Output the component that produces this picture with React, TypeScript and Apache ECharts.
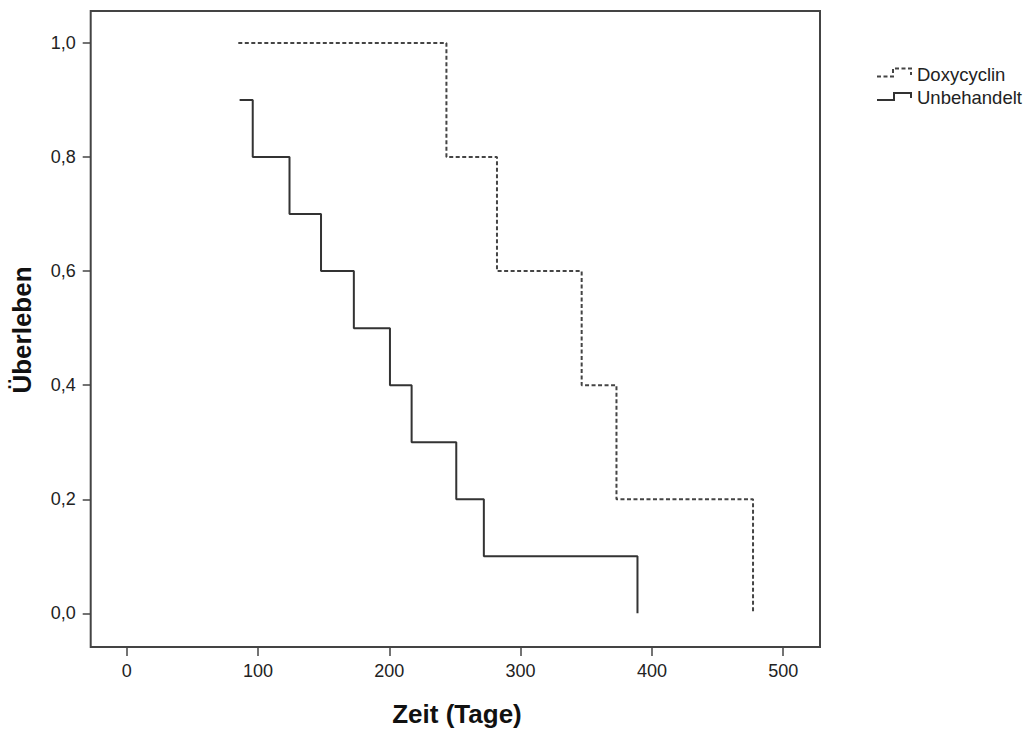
import React, { useEffect, useRef } from "react";
import * as echarts from "echarts";

const seriesNames = ["Doxycyclin", "Unbehandelt"];
const doxTimes = [85, 243.5, 282, 346.5, 373, 477];
const doxSurvival = [1.0, 0.8, 0.6, 0.4, 0.2, 0.0];
const untreatedTimes = [86, 96, 124, 148, 173, 200.5, 217, 251, 272, 389];
const untreatedSurvival = [0.9, 0.8, 0.7, 0.6, 0.5, 0.4, 0.3, 0.2, 0.1, 0.0];
const xTicks = [0, 100, 200, 300, 400, 500];
const yTicks = [0, 0.2, 0.4, 0.6, 0.8, 1.0];
const xTitle = "Zeit (Tage)";
const yTitle = "Überleben";

const FONT = "'Liberation Sans', Arial, sans-serif";
const FRAME = "#444";

export default function App() {
  const ref = useRef<HTMLDivElement>(null);

  useEffect(() => {
    if (!ref.current) return;
    const chart = echarts.init(ref.current, undefined, { renderer: "svg" });
    const zip = (t: number[], s: number[]) => t.map((v, i) => [v, s[i]]);

    chart.setOption({
      animation: false,
      backgroundColor: "#fff",
      textStyle: { fontFamily: FONT },
      grid: {
        left: 90.7,
        top: 11,
        width: 729.3,
        height: 636,
        show: true,
        borderColor: FRAME,
        borderWidth: 2,
        backgroundColor: "#fff",
      },
      xAxis: {
        type: "value",
        min: -27.4,
        max: 528,
        axisLine: { show: false, onZero: false },
        axisTick: {
          show: true,
          length: 9,
          customValues: xTicks,
          lineStyle: { color: FRAME, width: 1.5 },
        },
        axisLabel: {
          customValues: xTicks,
          margin: 15,
          fontSize: 18,
          color: "#222",
          fontFamily: FONT,
        },
        splitLine: { show: false },
      },
      yAxis: {
        type: "value",
        min: -0.059,
        max: 1.056,
        axisLine: { show: false, onZero: false },
        axisTick: {
          show: true,
          length: 8,
          customValues: yTicks,
          lineStyle: { color: FRAME, width: 1.5 },
        },
        axisLabel: {
          customValues: yTicks,
          margin: 15,
          fontSize: 18,
          color: "#222",
          fontFamily: FONT,
          formatter: (v: number) => v.toFixed(1).replace(".", ","),
        },
        splitLine: { show: false },
      },
      series: [
        {
          name: seriesNames[0],
          type: "line",
          step: "end",
          symbol: "none",
          data: zip(doxTimes, doxSurvival),
          lineStyle: { color: "#444", width: 2, type: [4, 2.5] },
        },
        {
          name: seriesNames[1],
          type: "line",
          step: "end",
          symbol: "none",
          data: zip(untreatedTimes, untreatedSurvival),
          lineStyle: { color: "#333", width: 2 },
        },
      ],
      graphic: [
        {
          type: "text",
          x: 457,
          y: 714,
          style: {
            text: xTitle,
            font: `bold 26px ${FONT}`,
            fill: "#111",
            textAlign: "center",
            textVerticalAlign: "middle",
          },
        },
        {
          type: "text",
          x: 22,
          y: 330,
          rotation: Math.PI / 2,
          style: {
            text: yTitle,
            font: `bold 26px ${FONT}`,
            fill: "#111",
            textAlign: "center",
            textVerticalAlign: "middle",
          },
        },
        {
          type: "polyline",
          shape: {
            points: [
              [877, 76.5],
              [893, 76.5],
              [893, 68.5],
              [911, 68.5],
              [911, 75],
            ],
          },
          style: { stroke: "#444", lineWidth: 2, lineDash: [4, 2.5], fill: null },
        },
        {
          type: "polyline",
          shape: {
            points: [
              [877, 100],
              [894, 100],
              [894, 93],
              [911, 93],
              [911, 98],
            ],
          },
          style: { stroke: "#333", lineWidth: 2, fill: null },
        },
        {
          type: "text",
          x: 917,
          y: 74,
          style: {
            text: seriesNames[0],
            font: `18.5px ${FONT}`,
            fill: "#222",
            textAlign: "left",
            textVerticalAlign: "middle",
          },
        },
        {
          type: "text",
          x: 917,
          y: 97,
          style: {
            text: seriesNames[1],
            font: `18.5px ${FONT}`,
            fill: "#222",
            textAlign: "left",
            textVerticalAlign: "middle",
          },
        },
      ],
    });

    return () => chart.dispose();
  }, []);

  return (
    <div
      ref={ref}
      style={{ position: "absolute", left: 0, top: 0, width: 1025, height: 731 }}
    />
  );
}
